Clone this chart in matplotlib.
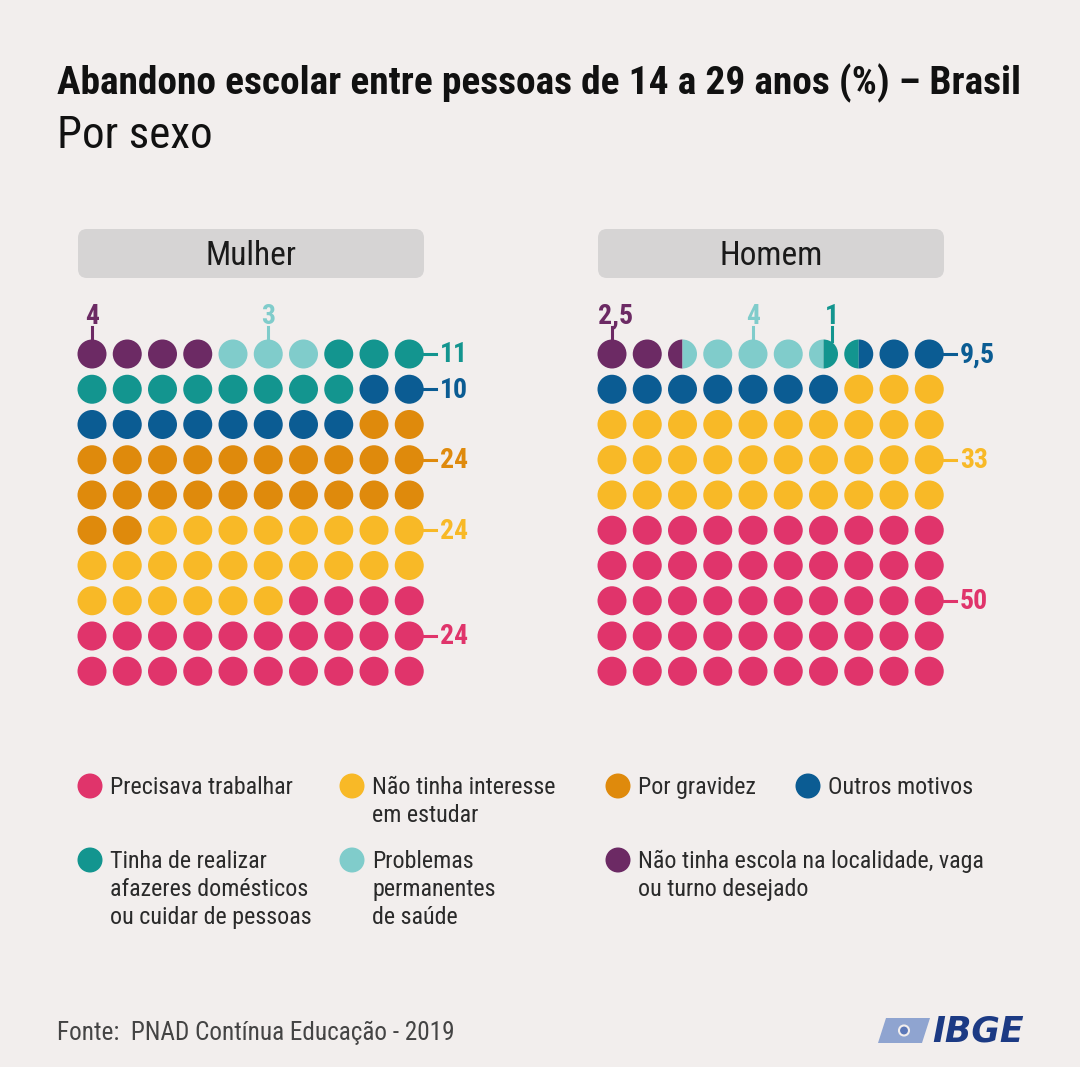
import matplotlib
matplotlib.use("Agg")
import matplotlib.pyplot as plt
from matplotlib.patches import Circle, Wedge, FancyBboxPatch, Polygon
from matplotlib import font_manager

# ---- data -------------------------------------------------------------
categories = ["Não tinha escola na localidade, vaga\nou turno desejado",
              "Problemas\npermanentes\nde saúde",
              "Tinha de realizar\nafazeres domésticos\nou cuidar de pessoas",
              "Outros motivos",
              "Por gravidez",
              "Não tinha interesse\nem estudar",
              "Precisava trabalhar"]
colors = ["#6c2a64", "#80cccb", "#13958f", "#0b5c93", "#df8a0c", "#f8b927", "#e0346b"]

mulher = [4, 3, 11, 10, 24, 24, 24]
homem = [2.5, 4, 1, 9.5, 0, 33, 50]

# labels above the grid: (category index, column position)
mulher_top = [(0, 0), (1, 5)]
homem_top = [(0, 0), (1, 4), (2, 6.25)]
mulher_top_txt = ["4", "3"]
homem_top_txt = ["2,5", "4", "1"]
# labels at the right: (category index, row)
mulher_right = [(2, 0), (3, 1), (4, 3), (5, 5), (6, 8)]
homem_right = [(3, 0), (5, 3), (6, 7)]
mulher_right_txt = ["11", "10", "24", "24", "24"]
homem_right_txt = ["9,5", "33", "50"]

# legend order (index into categories) and grid position
legend_order = [6, 5, 4, 3, 2, 1, 0]
legend_cols = [0, 1, 2, 3, 0, 1, 2]
legend_rows = [0, 0, 0, 0, 1, 1, 1]

BG = "#f2eeed"

# look for a condensed sans face, the original uses one
fonts = font_manager.fontManager.ttflist
names = {f.name for f in fonts}
FONT = "DejaVu Sans"
for cand in ["Roboto Condensed", "Liberation Sans Narrow", "Open Sans Condensed"]:
    if cand in names:
        FONT = cand
        break
plt.rcParams["font.family"] = [FONT, "DejaVu Sans"]

fig = plt.figure(figsize=(10.8, 10.67), dpi=100, facecolor=BG)
ax = fig.add_axes([0, 0, 1, 1])
ax.set_xlim(0, 1080)
ax.set_ylim(1067, 0)
ax.axis("off")
ax.set_facecolor(BG)


def fit(txt, width):
    fig.canvas.draw()
    w = txt.get_window_extent().width
    txt.set_fontsize(txt.get_fontsize() * width / w)


# ---- titles ------------------------------------------------------------
t = ax.text(57, 94, "Abandono escolar entre pessoas de 14 a 29 anos (%) – Brasil",
            fontsize=26, fontweight="bold", color="#111111", va="baseline")
fit(t, 963)
t2 = ax.text(57, 148, "Por sexo", fontsize=27, color="#111111", va="baseline")
fit(t2, 156)

STEP = 35.25
R = 14.5


def waffle(x0, y0, values, title, box_x, top_lbl, top_txt, right_lbl, right_txt):
    box = FancyBboxPatch((box_x, 229), 346, 49,
                         boxstyle="round,pad=0,rounding_size=9",
                         fc="#d6d4d4", ec="none")
    ax.add_patch(box)
    ax.text(box_x + 173, 256, title, fontsize=24, ha="center", va="center",
            color="#1a1a1a")
    # expand into half-cells
    halves = []
    for ci, v in enumerate(values):
        halves += [ci] * int(round(v * 2))
    for cell in range(100):
        r, c = divmod(cell, 10)
        cx, cy = x0 + c * STEP, y0 + r * STEP
        left, right = halves[2 * cell], halves[2 * cell + 1]
        if left == right:
            ax.add_patch(Circle((cx, cy), R, fc=colors[left], ec="none"))
        else:
            ax.add_patch(Wedge((cx, cy), R, 90, 270, fc=colors[left], ec="none"))
            ax.add_patch(Wedge((cx, cy), R, 270, 90, fc=colors[right], ec="none"))
    for (ci, col), txt in zip(top_lbl, top_txt):
        cx = x0 + col * STEP
        ax.plot([cx, cx], [y0 - 27, y0 - 13], color=colors[ci], lw=2.2)
        ax.text(cx + (4 if len(txt) > 1 else 0), y0 - 30, txt, fontsize=20,
                fontweight="bold", color=colors[ci], ha="center", va="baseline")
    for (ci, row), txt in zip(right_lbl, right_txt):
        cy = y0 + row * STEP
        xe = x0 + 9 * STEP + R
        ax.plot([xe, xe + 12], [cy, cy], color=colors[ci], lw=2.2)
        ax.text(xe + 16, cy + 1, txt, fontsize=20, fontweight="bold",
                color=colors[ci], ha="left", va="center")


waffle(92, 354, mulher, "Mulher", 78, mulher_top, mulher_top_txt,
       mulher_right, mulher_right_txt)
waffle(612, 354, homem, "Homem", 598, homem_top, homem_top_txt,
       homem_right, homem_right_txt)

# ---- legend ------------------------------------------------------------
leg_x = [90, 352, 618, 808]
leg_y = [786, 860]
for ci, col, row in zip(legend_order, legend_cols, legend_rows):
    cx, cy = leg_x[col], leg_y[row]
    ax.add_patch(Circle((cx, cy), 12.5, fc=colors[ci], ec="none"))
    ax.text(cx + 20, cy - 10, categories[ci], fontsize=17.3, color="#2a2a2a",
            va="top", ha="left", linespacing=1.27)

# ---- source and logo ---------------------------------------------------
t3 = ax.text(57, 1033, "Fonte:  PNAD Contínua Educação - 2019", fontsize=14.5,
             color="#444444", va="center")
fit(t3, 397)
ax.add_patch(Polygon([[886, 1018], [930, 1018], [922, 1043], [878, 1043]],
                     closed=True, fc="#8fa4d0", ec="none"))
ax.add_patch(Circle((904, 1030.5), 5, fc="#5c78b8", ec=BG, lw=1.5))
ax.text(932, 1031, "IBGE", fontsize=25, fontweight="bold", fontstyle="italic",
        color="#1c3a84", va="center", ha="left", family="DejaVu Sans")

fig.savefig("out.png", dpi=100, facecolor=BG)
